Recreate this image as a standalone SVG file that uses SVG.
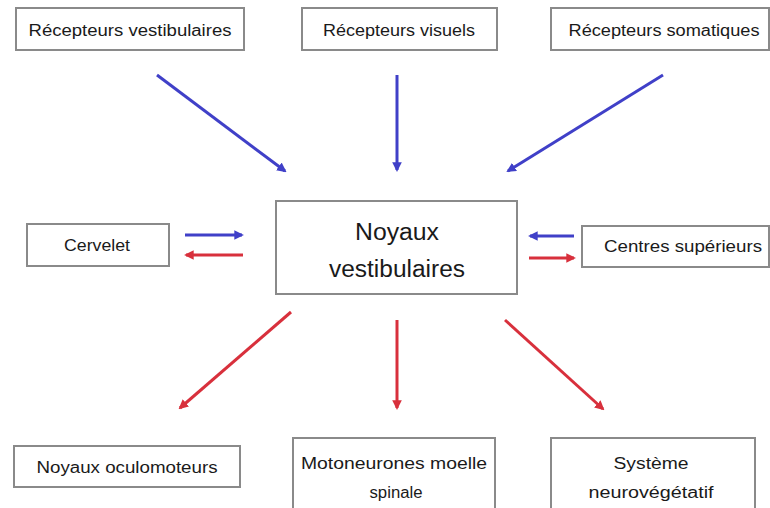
<svg xmlns="http://www.w3.org/2000/svg" width="770" height="508" viewBox="0 0 770 508">
<style>
.box{fill:#fff;stroke:#8a8a8a;stroke-width:2}
.t{font-family:"Liberation Sans","DejaVu Sans",sans-serif;font-size:16px;fill:#1a1a1a;text-anchor:middle;dominant-baseline:central}
.big{font-size:23px}
.b{stroke:#4040c8;stroke-width:3;fill:none}
.r{stroke:#d8303c;stroke-width:3;fill:none}
</style>
<defs>
<marker id="ab" viewBox="0 0 10 10" refX="8" refY="5" markerWidth="3.2" markerHeight="3.2" orient="auto" markerUnits="strokeWidth"><path d="M0,0 L10,5 L0,10 z" fill="#4040c8"/></marker>
<marker id="ar" viewBox="0 0 10 10" refX="8" refY="5" markerWidth="3.2" markerHeight="3.2" orient="auto" markerUnits="strokeWidth"><path d="M0,0 L10,5 L0,10 z" fill="#d8303c"/></marker>
</defs>
<rect width="770" height="508" fill="#fff"/>
<g id="n-rec-vest"><rect class="box" x="16" y="8" width="228" height="42"/><text class="t" x="130" y="30" textLength="203" lengthAdjust="spacingAndGlyphs">Récepteurs vestibulaires</text></g>
<g id="n-rec-vis"><rect class="box" x="302" y="8" width="195" height="42"/><text class="t" x="399" y="30" textLength="152" lengthAdjust="spacingAndGlyphs">Récepteurs visuels</text></g>
<g id="n-rec-som"><rect class="box" x="551" y="8" width="218" height="42"/><text class="t" x="664" y="30" textLength="191" lengthAdjust="spacingAndGlyphs">Récepteurs somatiques</text></g>
<g id="n-noyaux"><rect class="box" x="276" y="201" width="241" height="93"/><text class="t big" x="397" y="232" textLength="84" lengthAdjust="spacingAndGlyphs">Noyaux</text><text class="t big" x="397" y="269" textLength="136" lengthAdjust="spacingAndGlyphs">vestibulaires</text></g>
<g id="n-cervelet"><rect class="box" x="27" y="224" width="142" height="42"/><text class="t" x="97" y="245" textLength="66" lengthAdjust="spacingAndGlyphs">Cervelet</text></g>
<g id="n-centres"><rect class="box" x="582" y="226" width="187" height="41"/><text class="t" x="683" y="246" textLength="158" lengthAdjust="spacingAndGlyphs">Centres supérieurs</text></g>
<g id="n-oculo"><rect class="box" x="14" y="446" width="226" height="41"/><text class="t" x="127" y="467" textLength="181" lengthAdjust="spacingAndGlyphs">Noyaux oculomoteurs</text></g>
<g id="n-moto"><rect class="box" x="293" y="438" width="202" height="72"/><text class="t" x="394" y="463" textLength="186" lengthAdjust="spacingAndGlyphs">Motoneurones moelle</text><text class="t" x="396" y="492" textLength="53" lengthAdjust="spacingAndGlyphs">spinale</text></g>
<g id="n-systeme"><rect class="box" x="551" y="438" width="204" height="72"/><text class="t" x="651" y="463" textLength="75" lengthAdjust="spacingAndGlyphs">Système</text><text class="t" x="651" y="492" textLength="125" lengthAdjust="spacingAndGlyphs">neurovégétatif</text></g>
<g id="connectors">
<line class="b" x1="157" y1="75" x2="285" y2="171" marker-end="url(#ab)"/>
<line class="b" x1="397" y1="75" x2="397" y2="170" marker-end="url(#ab)"/>
<line class="b" x1="663" y1="75" x2="508" y2="171" marker-end="url(#ab)"/>
<line class="b" x1="185" y1="235" x2="242" y2="235" marker-end="url(#ab)"/>
<line class="r" x1="243" y1="255" x2="186" y2="255" marker-end="url(#ar)"/>
<line class="b" x1="574" y1="236" x2="530" y2="236" marker-end="url(#ab)"/>
<line class="r" x1="529" y1="258" x2="574" y2="258" marker-end="url(#ar)"/>
<line class="r" x1="291" y1="312" x2="180" y2="408" marker-end="url(#ar)"/>
<line class="r" x1="397" y1="320" x2="397" y2="408" marker-end="url(#ar)"/>
<line class="r" x1="505" y1="320" x2="603" y2="409" marker-end="url(#ar)"/>
</g>
</svg>
